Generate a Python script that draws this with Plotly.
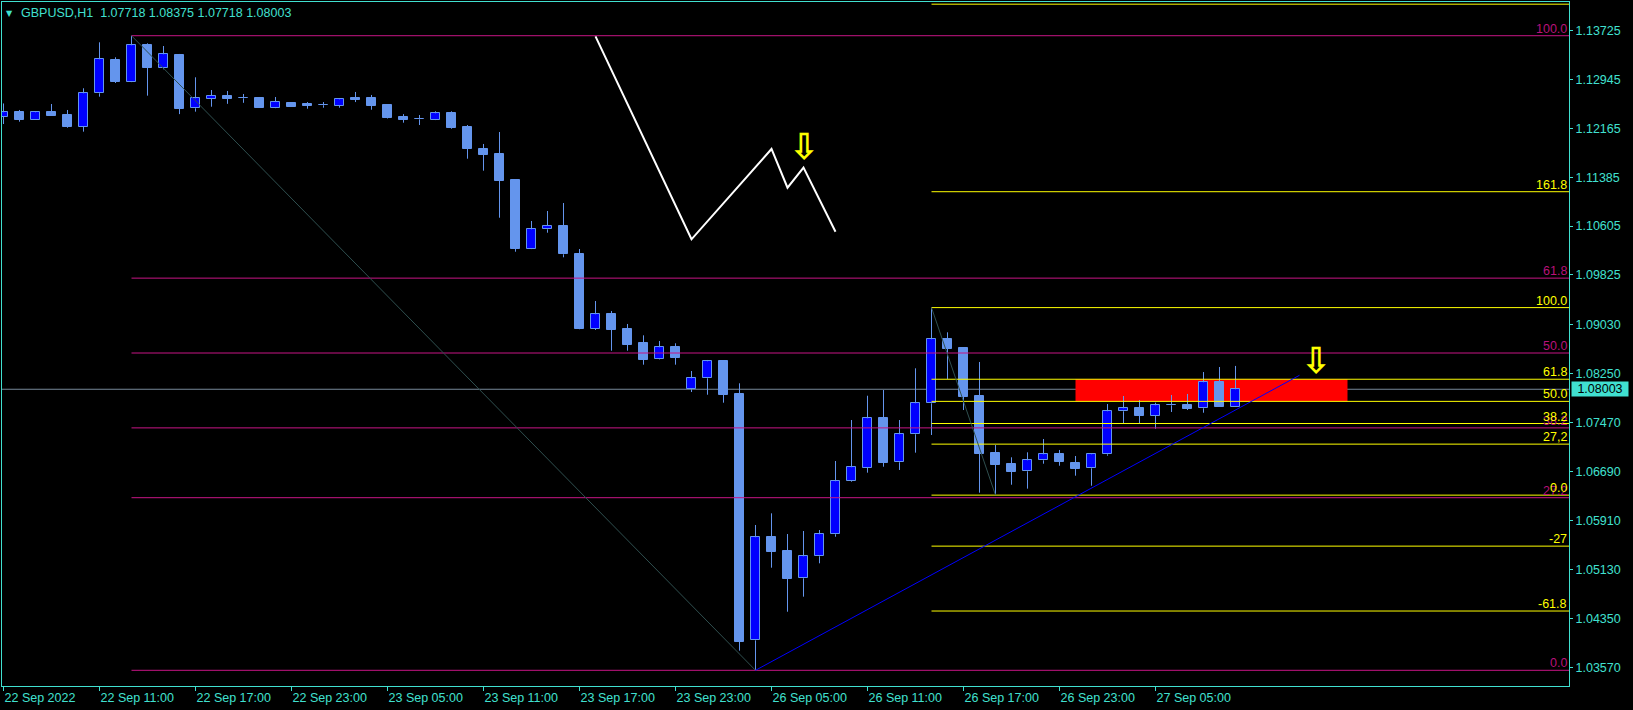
import plotly.graph_objects as go

# ---------------- data ----------------
bar_index = list(range(78))
opens = [1.12349, 1.12419, 1.12301, 1.12419, 1.12376, 1.12189, 1.12722, 1.13253, 1.12907, 1.13492,
         1.13130, 1.13333, 1.12483, 1.12636, 1.12679, 1.12642, 1.12647, 1.12492, 1.12566, 1.12551,
         1.12531, 1.12524, 1.12647, 1.12647, 1.12535, 1.12344, 1.12307, 1.12301, 1.12403, 1.12185,
         1.11834, 1.11754, 1.11340, 1.10244, 1.10553, 1.10606, 1.10160, 1.08969, 1.09198, 1.08964,
         1.08736, 1.08481, 1.08672, 1.08002, 1.08178, 1.08449, 1.07928, 1.04000, 1.05643, 1.05420,
         1.04989, 1.05340, 1.05691, 1.06536, 1.06752, 1.07540, 1.06839, 1.07285, 1.07779, 1.08800,
         1.08661, 1.07896, 1.06987, 1.06811, 1.06695, 1.06870, 1.06971, 1.06827, 1.06743, 1.06966,
         1.07652, 1.07704, 1.07582, 1.07747, 1.07749, 1.07700, 1.08119, 1.07718]
highs = [1.12560, 1.12456, 1.12435, 1.12551, 1.12456, 1.12802, 1.13535, 1.13296, 1.13640, 1.13519,
         1.13476, 1.13349, 1.12977, 1.12774, 1.12759, 1.12711, 1.12663, 1.12663, 1.12582, 1.12582,
         1.12582, 1.12647, 1.12743, 1.12695, 1.12543, 1.12390, 1.12376, 1.12435, 1.12435, 1.12216,
         1.11914, 1.12105, 1.11345, 1.10686, 1.10845, 1.10973, 1.10239, 1.09410, 1.09251, 1.09044,
         1.08863, 1.08773, 1.08736, 1.08294, 1.08470, 1.08460, 1.08098, 1.05839, 1.06025, 1.05695,
         1.05743, 1.05759, 1.06859, 1.07513, 1.07900, 1.07991, 1.07513, 1.08337, 1.09305, 1.08911,
         1.08665, 1.08438, 1.07114, 1.06918, 1.06998, 1.07210, 1.07035, 1.06939, 1.06982, 1.07768,
         1.07896, 1.07832, 1.07789, 1.07912, 1.07928, 1.08278, 1.08358, 1.08375]
lows = [1.12232, 1.12269, 1.12296, 1.12365, 1.12173, 1.12110, 1.12668, 1.12886, 1.12900, 1.12684,
        1.13105, 1.12390, 1.12429, 1.12508, 1.12554, 1.12570, 1.12492, 1.12485, 1.12509, 1.12476,
        1.12492, 1.12492, 1.12582, 1.12460, 1.12320, 1.12253, 1.12216, 1.12295, 1.12157, 1.11679,
        1.11488, 1.10738, 1.10196, 1.10238, 1.10499, 1.10107, 1.08960, 1.08948, 1.08618, 1.08618,
        1.08395, 1.08475, 1.08395, 1.07959, 1.07916, 1.07789, 1.03835, 1.03522, 1.05158, 1.04456,
        1.04696, 1.05228, 1.05652, 1.06525, 1.06673, 1.06768, 1.06716, 1.06992, 1.07274, 1.08167,
        1.07672, 1.06354, 1.06315, 1.06481, 1.06418, 1.06816, 1.06784, 1.06625, 1.06465, 1.06944,
        1.07460, 1.07460, 1.07374, 1.07641, 1.07672, 1.07629, 1.07718, 1.07718]
closes = [1.12419, 1.12301, 1.12419, 1.12365, 1.12189, 1.12722, 1.13264, 1.12902, 1.13487, 1.13130,
          1.13344, 1.12472, 1.12642, 1.12679, 1.12636, 1.12640, 1.12492, 1.12582, 1.12509, 1.12524,
          1.12530, 1.12626, 1.12615, 1.12524, 1.12333, 1.12301, 1.12305, 1.12403, 1.12173, 1.11839,
          1.11743, 1.11328, 1.10239, 1.10553, 1.10606, 1.10155, 1.08969, 1.09198, 1.08953, 1.08714,
          1.08474, 1.08672, 1.08506, 1.08178, 1.08449, 1.07916, 1.03978, 1.05643, 1.05413, 1.04983,
          1.05340, 1.05691, 1.06536, 1.06759, 1.07540, 1.06832, 1.07285, 1.07779, 1.08800, 1.08650,
          1.07884, 1.06976, 1.06800, 1.06689, 1.06870, 1.06966, 1.06848, 1.06736, 1.06966, 1.07652,
          1.07700, 1.07582, 1.07747, 1.07749, 1.07688, 1.08114, 1.07718, 1.08003]

tick_index = [0, 6, 12, 18, 24, 30, 36, 42, 48, 54, 60, 66, 72]
tick_labels = ["22 Sep 2022", "22 Sep 11:00", "22 Sep 17:00", "22 Sep 23:00", "23 Sep 05:00",
               "23 Sep 11:00", "23 Sep 17:00", "23 Sep 23:00", "26 Sep 05:00", "26 Sep 11:00",
               "26 Sep 17:00", "26 Sep 23:00", "27 Sep 05:00"]
price_ticks = [1.03570, 1.04350, 1.05130, 1.05910, 1.06690, 1.07470, 1.08250, 1.09030,
               1.09825, 1.10605, 1.11385, 1.12165, 1.12945, 1.13725]
price_tick_labels = ["1.03570", "1.04350", "1.05130", "1.05910", "1.06690", "1.07470", "1.08250",
                     "1.09030", "1.09825", "1.10605", "1.11385", "1.12165", "1.12945", "1.13725"]

fib1_bars = [8, 47]
fib1_prices = [1.13640, 1.03522]
fib1_levels = [0.0, 27.2, 38.2, 50.0, 61.8, 100.0]
fib1_labels = ["0.0", "27.2", "38.2", "50.0", "61.8", "100.0"]

fib2_bars = [58, 62]
fib2_prices = [1.09305, 1.06315]
fib2_levels = [-61.8, -27.2, 0.0, 27.2, 38.2, 50.0, 61.8, 100.0, 161.8, 261.8]
fib2_labels = ["-61.8", "-27", "0.0", "27,2", "38.2", "50.0", "61.8", "100.0", "161.8", ""]

trend_bars = [47, 81]
trend_prices = [1.03522, 1.08226]

zigzag_bars = [37, 43, 48, 49, 50, 52]
zigzag_prices = [1.13630, 1.10394, 1.11834, 1.11217, 1.11536, 1.10515]

arrow_bars = [50, 82]
arrow_prices = [1.11877, 1.08454]

zone_bars = [67, 84]
zone_prices = [1.07812, 1.08163]

last_price = 1.08003
header_text = "GBPUSD,H1\u00a0\u00a01.07718 1.08375 1.07718 1.08003"

# ---------------- styles ----------------
FG = "#40E0D0"
BULL_FILL = "#0000FF"
BEAR_FILL = "#6495ED"
EDGE = "#6495ED"
MAG = "#C71585"
MAG_TXT = "#B8127A"
YEL = "#FFFF00"
FONT = "Liberation Sans"
FS = 12.5

X_RANGE = [-0.09375, 97.84375]
Y_RANGE = [1.0327185, 1.141775]

fig = go.Figure()

# candle bodies
body_base = [min(o, c) for o, c in zip(opens, closes)]
body_h = [max(abs(c - o), 0.00002) for o, c in zip(opens, closes)]
body_col = [BULL_FILL if c > o else BEAR_FILL for o, c in zip(opens, closes)]
fig.add_trace(go.Bar(x=bar_index, y=body_h, base=body_base, width=0.6,
                     marker=dict(color=body_col, line=dict(color=EDGE, width=1)),
                     hoverinfo="skip", showlegend=False))

# wicks (outside the bodies)
wx, wy = [], []
for i, o, h, l, c in zip(bar_index, opens, highs, lows, closes):
    top, bot = max(o, c), min(o, c)
    if h > top:
        wx += [i, i, None]; wy += [top, h, None]
    if l < bot:
        wx += [i, i, None]; wy += [bot, l, None]
fig.add_trace(go.Scatter(x=wx, y=wy, mode="lines", line=dict(color=EDGE, width=1),
                         hoverinfo="skip", showlegend=False))

annotations = []

# fibonacci 1 (magenta)
hi1, lo1 = fib1_prices
for lev, lab in zip(fib1_levels, fib1_labels):
    p = lo1 + (hi1 - lo1) * lev / 100.0
    fig.add_trace(go.Scatter(x=[fib1_bars[0], X_RANGE[1] + 1], y=[p, p], mode="lines",
                             line=dict(color=MAG, width=1), hoverinfo="skip", showlegend=False))
    annotations.append(dict(xref="paper", x=1, xanchor="right", xshift=-1, yref="y", y=p,
                            yanchor="bottom", yshift=-1, text=lab, showarrow=False, borderpad=0,
                            font=dict(family=FONT, size=FS, color=MAG_TXT)))

# fibonacci 2 (yellow)
hi2, lo2 = fib2_prices
for lev, lab in zip(fib2_levels, fib2_labels):
    p = lo2 + (hi2 - lo2) * lev / 100.0
    fig.add_trace(go.Scatter(x=[fib2_bars[0], X_RANGE[1] + 1], y=[p, p], mode="lines",
                             line=dict(color=YEL, width=1), hoverinfo="skip", showlegend=False))
    if lab:
        annotations.append(dict(xref="paper", x=1, xanchor="right", xshift=-1, yref="y", y=p,
                                yanchor="bottom", yshift=-1, text=lab, showarrow=False, borderpad=0,
                                font=dict(family=FONT, size=FS, color=YEL)))

# fib diagonals
fig.add_trace(go.Scatter(x=fib1_bars, y=fib1_prices, mode="lines",
                         line=dict(color="#2F4F4F", width=1), hoverinfo="skip", showlegend=False))
fig.add_trace(go.Scatter(x=fib2_bars, y=fib2_prices, mode="lines",
                         line=dict(color="#2F4F4F", width=1), hoverinfo="skip", showlegend=False))

# blue trendline
fig.add_trace(go.Scatter(x=trend_bars, y=trend_prices, mode="lines",
                         line=dict(color="#0000FF", width=1), hoverinfo="skip", showlegend=False))

# white zigzag
fig.add_trace(go.Scatter(x=zigzag_bars, y=zigzag_prices, mode="lines",
                         line=dict(color="#FFFFFF", width=2), hoverinfo="skip", showlegend=False))

# arrows
for ax, ay in zip(arrow_bars, arrow_prices):
    annotations.append(dict(xref="x", x=ax, yref="y", y=ay, text="\u21e9", showarrow=False,
                            xanchor="center", yanchor="middle",
                            font=dict(family="DejaVu Sans", size=36, color=YEL, weight="bold")))

# header
annotations.append(dict(xref="paper", yref="paper", x=0, y=1, xanchor="left", yanchor="top",
                        xshift=3, yshift=-6, text="\u25bc", showarrow=False, borderpad=0,
                        font=dict(family="DejaVu Sans", size=8, color=FG)))
annotations.append(dict(xref="paper", yref="paper", x=0, y=1, xanchor="left", yanchor="top",
                        xshift=18, yshift=-3, text=header_text, showarrow=False, borderpad=0,
                        font=dict(family=FONT, size=FS, color=FG)))

# last price box
annotations.append(dict(xref="paper", x=1, xanchor="left", xshift=2, yref="y", y=last_price,
                        yanchor="middle", text="1.08003", showarrow=False, bgcolor=FG,
                        width=54, height=12, borderpad=1,
                        font=dict(family=FONT, size=FS, color="#000000")))

shapes = [
    dict(type="rect", xref="x", yref="y", x0=zone_bars[0], x1=zone_bars[1],
         y0=zone_prices[0], y1=zone_prices[1], fillcolor="#FF0000", line=dict(width=0),
         layer="below"),
    dict(type="line", xref="paper", yref="y", x0=0, x1=1, y0=last_price, y1=last_price,
         line=dict(color="#778899", width=1), layer="below"),
]

fig.update_layout(
    width=1633, height=710, autosize=False,
    margin=dict(l=2, r=64, t=2, b=24),
    paper_bgcolor="#000000", plot_bgcolor="#000000",
    showlegend=False, bargap=0,
    annotations=annotations, shapes=shapes,
    xaxis=dict(range=X_RANGE, tickmode="array", tickvals=tick_index, ticktext=tick_labels,
               ticks="outside", ticklen=4, tickcolor=FG, showline=True, linecolor=FG,
               linewidth=1, mirror=True, showgrid=False, zeroline=False,
               ticklabelposition="outside right",
               tickfont=dict(family=FONT, size=FS, color=FG)),
    yaxis=dict(range=Y_RANGE, side="right", tickmode="array", tickvals=price_ticks,
               ticktext=price_tick_labels, ticks="outside", ticklen=3, tickcolor=FG,
               showline=True, linecolor=FG, linewidth=1, mirror=True, showgrid=False,
               zeroline=False, tickfont=dict(family=FONT, size=FS, color=FG)),
)

fig.write_html("out.html",
               config={"displayModeBar": False},
               post_script="document.body.style.margin='0';document.body.style.padding='0';"
                           "document.body.style.background='#000';")
